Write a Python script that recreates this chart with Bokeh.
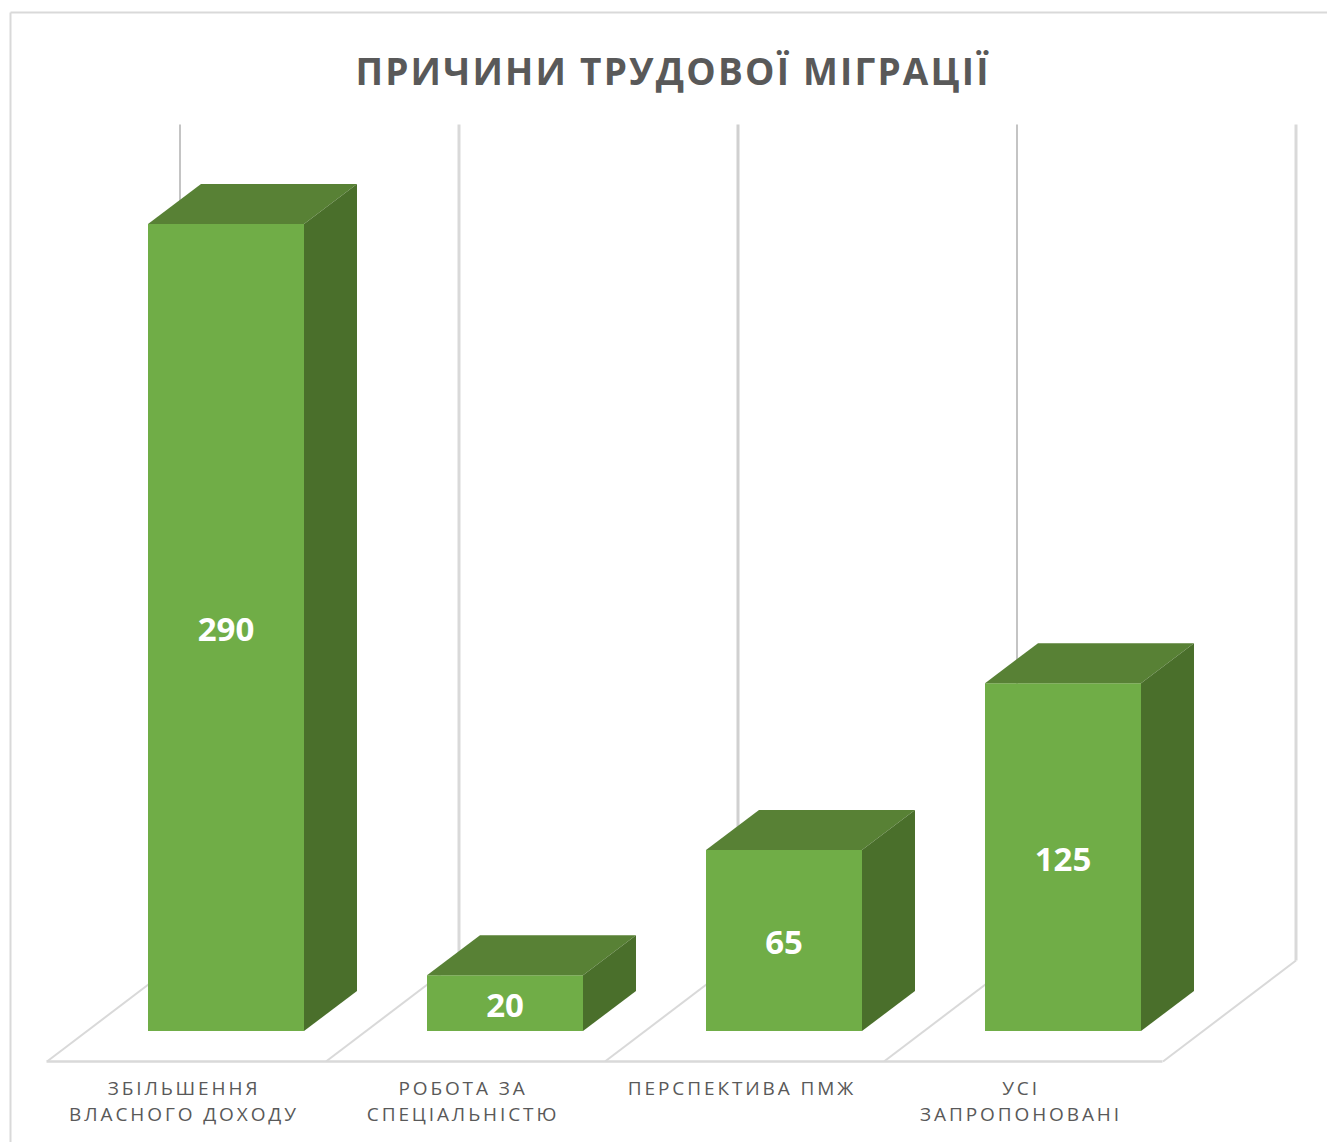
from bokeh.plotting import figure, curdoc
from bokeh.embed import file_html
from bokeh.resources import INLINE
from bokeh.models import Range1d, CustomJS
from bokeh.core.properties import value

title_text = "ПРИЧИНИ ТРУДОВОЇ МІГРАЦІЇ"
categories = ["ЗБІЛЬШЕННЯ\nВЛАСНОГО ДОХОДУ", "РОБОТА ЗА\nСПЕЦІАЛЬНІСТЮ", "ПЕРСПЕКТИВА ПМЖ", "УСІ\nЗАПРОПОНОВАНІ"]
values = [290, 20, 65, 125]

W, H = 1327, 1142
STEP = 279.0      # px per category
UNIT = 2.783      # px per value unit
X0 = 225.5        # page px of first bar centre
Y0 = 1030.5       # page px of value 0
def dx(px): return px / STEP
def dy(px): return px / UNIT
def fx(px): return (px - X0) / STEP      # page px -> x data
def fy(py): return (Y0 - py) / UNIT      # page px -> y data

p = figure(width=W, height=H, output_backend="svg", toolbar_location=None,
           x_range=Range1d(fx(0), fx(W)), y_range=Range1d(fy(H), fy(0)),
           min_border=0, outline_line_color=None, background_fill_color="white")
p.axis.visible = False
p.grid.visible = False

# outer frame
BORDER = "#d9d9d9"
p.line([fx(10), fx(10)], [fy(H), fy(12)], line_color=BORDER, line_width=2)
p.line([fx(10), fx(W)], [fy(12), fy(12)], line_color=BORDER, line_width=2)

# 3D wall lines and floor
n = len(categories)
wall_top, wall_bottom, floor_front = fy(124), fy(960), fy(1061)
wall_colors = ["#c4c4c4", "#d9d9d9", "#d0d0d0", "#c4c4c4", "#d9d9d9"]
wall_widths = [2, 3, 3, 2, 3]
for i in range(n + 1):
    back = fx(179.5) + i
    front = back - dx(133)
    p.line([back, back], [wall_top, wall_bottom], line_color=wall_colors[i], line_width=wall_widths[i])
    p.line([front, back], [floor_front, wall_bottom], line_color=BORDER, line_width=2)
p.line([fx(46), fx(46) + n], [floor_front, floor_front], line_color=BORDER, line_width=2.5)

# bars
BW, DX, DY = dx(156), dx(53), dy(40)
xs = list(range(n))
p.quad(left=[x - BW / 2 for x in xs], right=[x + BW / 2 for x in xs], bottom=0, top=values,
       fill_color="#70ad47", line_color=None)
p.patches([[x - BW / 2, x - BW / 2 + DX, x + BW / 2 + DX, x + BW / 2] for x in xs],
          [[v, v + DY, v + DY, v] for v in values], fill_color="#588135", line_color=None)
p.patches([[x + BW / 2, x + BW / 2 + DX, x + BW / 2 + DX, x + BW / 2] for x in xs],
          [[0, DY, v + DY, v] for v in values], fill_color="#4a6f2b", line_color=None)

# value labels
p.text(x=xs, y=[v / 2 - dy(2) for v in values], text=[str(v) for v in values],
       text_font=value("Open Sans"), text_font_style="bold", text_font_size="33px",
       text_color="white", text_align="center", text_baseline="middle")

# category labels
lx, ly, lt = [], [], []
for i, c in enumerate(categories):
    for j, line in enumerate(c.split("\n")):
        lx.append(fx(183.5) + i)
        ly.append(fy(1087 + j * 26))
        lt.append(line)
p.text(x=lx, y=ly, text=lt, text_font=value("Open Sans"), text_font_size="19px",
       text_color="#595959", text_align="center", text_baseline="middle")

# title
p.text(x=[fx(672.5)], y=[fy(70)], text=[title_text], text_font=value("Open Sans"),
       text_font_style="bold", text_font_size="37px", text_color="#595959",
       text_align="center", text_baseline="middle")

# letter spacing for the svg texts
js = """
const spacing={'37':2.2,'19':2.9};
function walk(root){
  root.querySelectorAll('*').forEach(el=>{
    if(el.shadowRoot) walk(el.shadowRoot);
    if(el.tagName && el.tagName.toLowerCase()==='text' && !el.dataset.spaced){
      const fs=(el.getAttribute('font-size')||el.style.fontSize||'').slice(0,2);
      const s=spacing[fs];
      if(s){
        el.style.letterSpacing=s+'px';
        const n=el.textContent.length;
        el.setAttribute('x', parseFloat(el.getAttribute('x')||0)-n*s/2);
        el.dataset.spaced='1';
      }
    }
  });
}
walk(document);
setTimeout(()=>walk(document),100);
setTimeout(()=>walk(document),500);
"""
doc = curdoc()
doc.add_root(p)
doc.js_on_event("document_ready", CustomJS(code=js))

open("out.html", "w").write(file_html(p, INLINE))
